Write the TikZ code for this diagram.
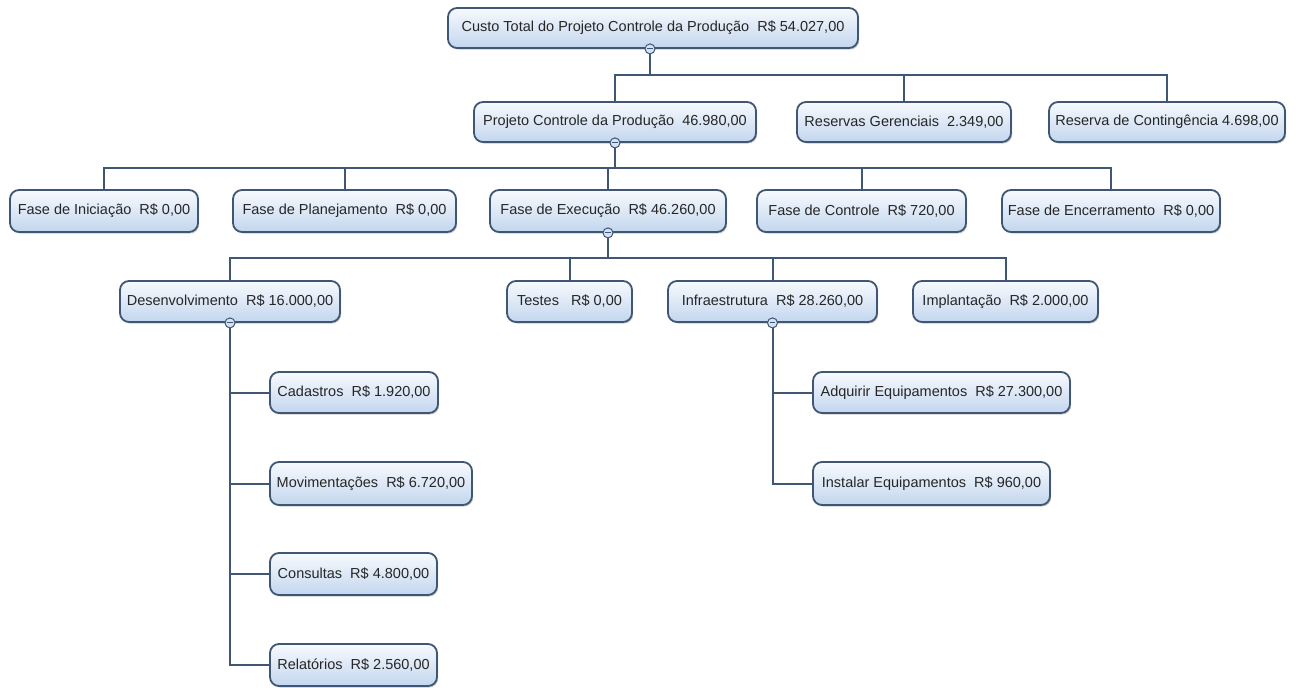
\documentclass[tikz,border=0pt]{standalone}
\usepackage{fontspec}
\setmainfont{Liberation Sans}
\usetikzlibrary{shadows,backgrounds}
\definecolor{edgecol}{HTML}{3F5675}
\definecolor{boxtop}{HTML}{F7FAFE}
\definecolor{boxbot}{HTML}{C3D6EE}
\tikzset{
  wbs/.style={draw=edgecol, line width=1.8pt, rounded corners=9pt,
    top color=boxtop, bottom color=boxbot, inner xsep=2pt, inner ysep=0pt,
    font=\fontsize{14.5}{17}\selectfont, text=black!85,
    drop shadow={shadow xshift=1.2pt, shadow yshift=-1.5pt, opacity=0.35, fill=black!60}},
  link/.style={draw=edgecol, line width=2pt},
  fold/.style={circle, draw=edgecol, line width=1pt, fill=boxbot!70!white,
    minimum size=10pt, inner sep=0pt,
    path picture={\draw[edgecol, line width=1.1pt] ([xshift=-2.8pt]path picture bounding box.center) -- ([xshift=2.8pt]path picture bounding box.center);}}
}
\begin{document}
\begin{tikzpicture}[x=1pt,y=-1pt]
\useasboundingbox (0,0) rectangle (1299,688);
% level 0
\node[wbs, minimum width=410pt, minimum height=40pt] (root) at (653,28) {Custo Total do Projeto Controle da Produção~ R\$ 54.027,00};
% level 1
\node[wbs, minimum width=282pt, minimum height=40pt] (proj) at (615,122) {Projeto Controle da Produção~ 46.980,00};
\node[wbs, minimum width=214pt, minimum height=40pt] (resg) at (904,122) {Reservas Gerenciais~ 2.349,00};
\node[wbs, minimum width=236pt, minimum height=40pt] (rcont) at (1167,122) {Reserva de Contingência 4.698,00};
% level 2
\node[wbs, minimum width=188pt, minimum height=42pt] (ini) at (104,211) {Fase de Iniciação~ R\$ 0,00};
\node[wbs, minimum width=223pt, minimum height=42pt] (plan) at (344.5,211) {Fase de Planejamento~ R\$ 0,00};
\node[wbs, minimum width=236pt, minimum height=42pt] (exe) at (608,211) {Fase de Execução~ R\$ 46.260,00};
\node[wbs, minimum width=209pt, minimum height=42pt] (ctrl) at (861.5,211) {Fase de Controle~ R\$ 720,00};
\node[wbs, minimum width=218pt, minimum height=42pt] (enc) at (1111,211) {Fase de Encerramento~ R\$ 0,00};
% level 3
\node[wbs, minimum width=220pt, minimum height=41pt] (des) at (230,301.5) {Desenvolvimento~ R\$ 16.000,00};
\node[wbs, minimum width=125pt, minimum height=41pt] (tes) at (569.5,301.5) {Testes~~ R\$ 0,00};
\node[wbs, minimum width=209pt, minimum height=41pt] (inf) at (772.5,301.5) {Infraestrutura~ R\$ 28.260,00};
\node[wbs, minimum width=185pt, minimum height=41pt] (imp) at (1005.5,301.5) {Implantação~ R\$ 2.000,00};
% level 4
\node[wbs, minimum width=168pt, minimum height=41pt] (cad) at (354,392.5) {Cadastros~ R\$ 1.920,00};
\node[wbs, minimum width=202pt, minimum height=43pt] (mov) at (371,483.5) {Movimentações~ R\$ 6.720,00};
\node[wbs, minimum width=167pt, minimum height=42pt] (con) at (353.5,574) {Consultas~ R\$ 4.800,00};
\node[wbs, minimum width=167pt, minimum height=42pt] (rel) at (353.5,665) {Relatórios~ R\$ 2.560,00};
\node[wbs, minimum width=257pt, minimum height=41pt] (adq) at (941.5,392.5) {Adquirir Equipamentos~ R\$ 27.300,00};
\node[wbs, minimum width=237pt, minimum height=43pt] (ins) at (931.5,483.5) {Instalar Equipamentos~ R\$ 960,00};
% bus coordinates
\coordinate (b0) at (650,75);
\coordinate (b1) at (615,168);
\coordinate (b2) at (608,258);
% fold markers
\node[fold] (f0) at ([xshift=-3pt]root.south) {};
\node[fold] (f1) at (proj.south) {};
\node[fold] (f2) at (exe.south) {};
\node[fold] (f3) at (des.south) {};
\node[fold] (f4) at (inf.south) {};
% connectors (behind nodes)
\begin{pgfonlayer}{background}
\draw[link] (f0) -- (b0);
\draw[link] (proj.north) |- (b0);
\draw[link] (resg.north) |- (b0);
\draw[link] (rcont.north) |- (b0);
\draw[link] (f1) -- (b1);
\draw[link] (ini.north) |- (b1);
\draw[link] (plan.north) |- (b1);
\draw[link] (enc.north) |- (b1);
\draw[link] (ctrl.north) |- (b1);
\draw[link] (exe.north) |- (b1);
\draw[link] (f2) -- (b2);
\draw[link] (des.north) |- (b2);
\draw[link] (tes.north) |- (b2);
\draw[link] (imp.north) |- (b2);
\draw[link] (inf.north) |- (b2);
\draw[link] (cad.west) -| (f3);
\draw[link] (mov.west) -| (f3);
\draw[link] (con.west) -| (f3);
\draw[link] (rel.west) -| (f3);
\draw[link] (adq.west) -| (f4);
\draw[link] (ins.west) -| (f4);
\end{pgfonlayer}
\end{tikzpicture}
\end{document}
